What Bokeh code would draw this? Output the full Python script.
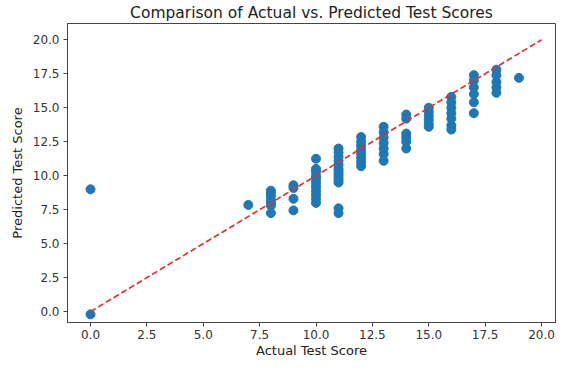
from bokeh.plotting import figure
from bokeh.models import FixedTicker, PrintfTickFormatter, ColumnDataSource
from bokeh.embed import file_html
from bokeh.resources import INLINE

# Data
actual_by_score = {
    0: [9.0, -0.2],
    7: [7.85],
    8: [8.9, 8.7, 8.5, 8.2, 8.0, 7.8, 7.25],
    9: [9.3, 9.1, 8.3, 7.45],
    10: [11.25, 10.5, 10.3, 10.0, 9.8, 9.5, 9.2, 8.9, 8.6, 8.3, 8.0],
    11: [12.0, 11.7, 11.4, 11.1, 10.8, 10.5, 10.3, 10.1, 9.9, 9.7, 9.5, 7.6, 7.25],
    12: [12.85, 12.5, 12.2, 11.9, 11.6, 11.3, 11.0, 10.7],
    13: [13.6, 13.2, 12.8, 12.4, 12.0, 11.6, 11.1],
    14: [14.5, 14.2, 13.1, 12.8, 12.5, 12.0],
    15: [15.0, 14.7, 14.4, 14.1, 13.8, 13.6],
    16: [15.8, 15.4, 15.0, 14.6, 14.2, 13.7, 13.4],
    17: [17.4, 17.0, 16.5, 16.0, 15.4, 14.6],
    18: [17.8, 17.4, 16.9, 16.5, 16.1],
    19: [17.2],
}
actual = [a for a, preds in actual_by_score.items() for _ in preds]
predicted = [v for preds in actual_by_score.values() for v in preds]

ideal_x = [0, 20]
ideal_y = [0, 20]

tick_values = [0, 2.5, 5, 7.5, 10, 12.5, 15, 17.5, 20]
x_title = "Actual Test Score"
y_title = "Predicted Test Score"

p = figure(width=556, height=360, output_backend="svg", toolbar_location=None,
           x_range=(-1.02, 20.62), y_range=(-0.8, 21.2),
           title="Comparison of Actual vs. Predicted Test Scores")
p.min_border_left = 67
p.min_border_right = 1
p.min_border_top = 0
p.min_border_bottom = 0

p.title.align = "center"
p.title.offset = -16
p.title.text_font = "DejaVu Sans"
p.title.text_font_size = "15.5px"
p.title.text_font_style = "normal"
p.title.text_color = "#222222"
p.title.standoff = 3

src = ColumnDataSource(dict(x=actual, y=predicted))
p.scatter("x", "y", source=src, size=9, fill_color="#1f77b4", line_color="#1f77b4")
p.line(ideal_x, ideal_y, line_color="#e4312f", line_width=1.7, line_dash="6 3")

p.xgrid.visible = False
p.ygrid.visible = False
p.outline_line_color = "#444444"
p.outline_line_width = 1

for ax in (p.xaxis[0], p.yaxis[0]):
    ax.ticker = FixedTicker(ticks=tick_values)
    ax.formatter = PrintfTickFormatter(format="%.1f")
    ax.major_label_text_font = "DejaVu Sans"
    ax.major_label_text_font_size = "12px"
    ax.major_label_text_color = "#333333"
    ax.axis_label_text_font = "DejaVu Sans"
    ax.axis_label_text_font_size = "13px"
    ax.axis_label_text_font_style = "normal"
    ax.axis_label_text_color = "#222222"
    ax.axis_line_color = "#444444"
    ax.major_tick_line_color = "#444444"
    ax.major_tick_out = 4
    ax.major_tick_in = 0
    ax.minor_tick_line_color = None

p.xaxis.axis_label = x_title
p.yaxis.axis_label = y_title
p.xaxis.major_label_standoff = 3
p.yaxis.major_label_standoff = 4
p.xaxis.axis_label_standoff = 1
p.yaxis.axis_label_standoff = 5

open("out.html", "w").write(file_html(p, INLINE))
